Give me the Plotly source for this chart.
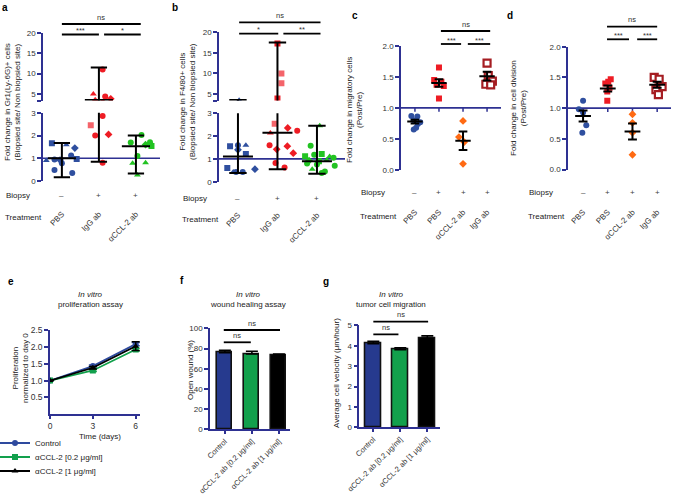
import plotly.graph_objects as go

W, H = 675, 501
def px(x): return x / W
def py(y): return 1 - y / H

FONT = "Liberation Sans, Arial, sans-serif"
NAVY = "#2e3192"
BLUE = "#2f4f9f"
RED = "#ee1c24"
PINK = "#f4646a"
GREEN = "#22c322"
ORANGE = "#ff6a13"
DARKRED = "#a51d22"
TXT = "#333333"
REF = 1.0
FS = 8

# ---------------- data ----------------
# panel a
a_groups = ["PBS", "IgG ab", "αCCL-2 ab"]
a_biopsy = ["–", "+", "+"]
a_pbs = [1.66, 1.6, 1.45, 1.12, 0.95, 0.92, 0.97, 0.9, 0.78, 0.48, 0.35]
a_igg = [11.0, 5.0, 4.4, 3.8, 3.6, 2.86, 2.45, 2.0, 2.05, 0.8]
a_ccl = [2.02, 1.69, 1.7, 1.6, 1.54, 1.1, 0.78, 0.8, 0.26]
a_mean = [1.0, 3.55, 1.53]
a_lo = [0.17, 0.85, 0.33]
a_hi = [1.67, 11.5, 2.0]
a_pbs_sym = ["square", "triangle-up", "diamond", "circle", "circle", "diamond", "square", "triangle-up", "circle", "circle", "circle"]
a_pbs_jit = [-0.27, 0.12, 0.35, 0.25, -0.2, -0.05, 0.4, -0.42, 0.0, -0.2, 0.28]
a_igg_sym = ["circle", "triangle-up", "circle", "diamond", "triangle-up", "circle", "square", "circle", "diamond", "circle"]
a_igg_jit = [0.1, -0.15, 0.17, 0.32, -0.1, 0.1, -0.22, -0.1, 0.26, 0.1]
a_ccl_sym = ["circle", "circle", "circle", "diamond", "square", "circle", "triangle-up", "triangle-up", "triangle-up"]
a_ccl_jit = [0.15, -0.14, 0.38, 0.26, 0.42, 0.04, -0.09, 0.26, 0.04]

# panel b
b_groups = ["PBS", "IgG ab", "αCCL-2 ab"]
b_biopsy = ["–", "+", "+"]
b_pbs = [3.45, 1.55, 1.6, 1.6, 1.4, 1.22, 0.6, 0.42, 0.42, 0.55, 0.42]
b_igg = [17.3, 10.0, 7.6, 3.9, 2.54, 2.14, 2.24, 2.36, 1.6, 1.42, 1.56, 1.25, 0.82, 0.62]
b_ccl = [2.45, 1.58, 1.12, 1.18, 1.22, 1.1, 1.05, 0.95, 0.8, 0.92, 0.75, 0.9, 0.7, 0.55, 0.45, 0.38]
b_mean = [1.1, 2.15, 0.9]
b_lo = [0.38, 0.55, 0.35]
b_hi = [3.5, 17.5, 2.45]
b_pbs_sym = ["triangle-up", "square", "circle", "triangle-up", "diamond", "square", "square", "circle", "circle", "diamond", "triangle-up"]
b_pbs_jit = [0.03, -0.2, 0.0, 0.2, 0.0, 0.2, -0.27, -0.05, 0.12, 0.43, -0.12]
b_igg_sym = ["square", "square", "square", "square", "square", "triangle-up", "circle", "diamond", "circle", "diamond", "diamond", "diamond", "circle", "circle"]
b_igg_pink = [False, True, True, False, True, False, False, False, False, False, False, False, False, False]
b_igg_jit = [0.0, 0.1, 0.1, 0.0, -0.07, -0.18, 0.5, 0.26, -0.2, -0.02, 0.25, 0.4, -0.05, 0.18]
b_ccl_sym = ["triangle-up", "circle", "square", "circle", "square", "triangle-up", "circle", "triangle-up", "circle", "diamond", "circle", "square", "circle", "triangle-up", "circle", "circle"]
b_ccl_jit = [0.07, -0.16, -0.3, -0.07, 0.12, 0.32, 0.42, 0.25, -0.25, -0.2, 0.0, 0.05, 0.45, -0.12, 0.2, 0.12]

# panel c
cd_groups = ["PBS", "PBS", "αCCL-2 ab", "IgG ab"]
cd_biopsy = ["–", "+", "+", "+"]
c_pbs0 = [0.87, 0.86, 0.8, 0.77, 0.74, 0.68, 0.65]
c_pbs1 = [1.65, 1.45, 1.42, 1.37, 1.35, 1.15]
c_ccl = [0.79, 0.53, 0.45, 0.1]
c_igg = [1.72, 1.52, 1.43, 1.38, 1.37]
c_mean = [0.78, 1.4, 0.47, 1.51]
c_sem = [0.03, 0.06, 0.15, 0.07]
c_jit = [[-0.15, 0.1, -0.05, 0.22, 0.12, 0.05, -0.05],
         [0.0, -0.2, 0.1, -0.1, 0.2, 0.0],
         [0.0, -0.17, 0.05, 0.0],
         [0.0, 0.05, 0.22, -0.05, 0.15]]

# panel d
d_pbs0 = [1.12, 0.98, 0.93, 0.72, 0.6]
d_pbs1 = [1.47, 1.43, 1.4, 1.33, 1.27, 1.12]
d_ccl = [0.9, 0.76, 0.6, 0.24]
d_igg = [1.5, 1.47, 1.35, 1.3, 1.22]
d_mean = [0.87, 1.32, 0.62, 1.38]
d_sem = [0.09, 0.05, 0.13, 0.05]
d_jit = [[0.0, -0.17, 0.0, 0.13, -0.03],
         [0.12, 0.02, -0.1, 0.07, -0.02, -0.02],
         [0.0, 0.0, 0.0, 0.0],
         [-0.12, 0.08, 0.2, -0.05, 0.05]]

# panel e
e_days = [0, 3, 6]
e_control = [1.0, 1.43, 2.08]
e_control_err = [0.0, 0.03, 0.05]
e_ccl02 = [1.0, 1.3, 1.92]
e_ccl02_err = [0.0, 0.03, 0.04]
e_ccl1 = [1.0, 1.38, 2.02]
e_ccl1_err = [0.0, 0.04, 0.13]
e_names = ["Control", "αCCL-2 [0.2 μg/ml]", "αCCL-2 [1 μg/ml]"]

# panels f, g
fg_labels = ["Control", "αCCL-2 ab [0.2 μg/ml]", "αCCL-2 ab [1 μg/ml]"]
f_vals = [75.8, 74.5, 73.2]
f_err = [2.5, 2.8, 1.2]
g_vals = [4.1, 3.8, 4.35]
g_err = [0.12, 0.1, 0.13]
BAR_COLORS = ["#263a8e", "#12a04c", "#000000"]

fig = go.Figure()

def add_points(xa, yas, center, vals, jit, syms, colors, size=6, open_=False):
    xs = [center + j for j in jit]
    for ya in yas:
        if open_:
            mk = dict(symbol=syms, color="white", size=size + 1, line=dict(color=colors, width=2.2))
        else:
            mk = dict(symbol=syms, color=colors, size=size, line=dict(width=0))
        fig.add_trace(go.Scatter(x=xs, y=vals, mode="markers", marker=mk, xaxis=xa, yaxis=ya,
                                 cliponaxis=True, showlegend=False, hoverinfo="skip"))

def add_bar(xa, yas, center, mean, lo, hi, mw, cw, width=2):
    xs = [center, center, None, center - cw, center + cw, None, center - cw, center + cw, None, center - mw, center + mw]
    ys = [lo, hi, None, lo, lo, None, hi, hi, None, mean, mean]
    for ya in yas:
        fig.add_trace(go.Scatter(x=xs, y=ys, mode="lines", line=dict(color="black", width=width),
                                 xaxis=xa, yaxis=ya, showlegend=False, hoverinfo="skip"))

# ---- panel a ----
add_points("x", ["y", "y2"], 0, a_pbs, a_pbs_jit, a_pbs_sym, BLUE)
add_points("x", ["y", "y2"], 1, a_igg, a_igg_jit, a_igg_sym,
           [PINK if s == "square" else RED for s in a_igg_sym])
add_points("x", ["y", "y2"], 2, a_ccl, a_ccl_jit, a_ccl_sym, GREEN)
for i in range(3):
    add_bar("x", ["y", "y2"], i, a_mean[i], a_lo[i], a_hi[i], 0.38, 0.22)

# ---- panel b ----
add_points("x2", ["y3", "y4"], 0, b_pbs, b_pbs_jit, b_pbs_sym, BLUE)
add_points("x2", ["y3", "y4"], 1, b_igg, b_igg_jit, b_igg_sym,
           [PINK if p else RED for p in b_igg_pink])
add_points("x2", ["y3", "y4"], 2, b_ccl, b_ccl_jit, b_ccl_sym, GREEN)
for i in range(3):
    add_bar("x2", ["y3", "y4"], i, b_mean[i], b_lo[i], b_hi[i], 0.38, 0.22)

# ---- panel c / d ----
def cd_panel(xa, ya, groups_vals, jits, means, sems):
    styles = [("circle", BLUE, False), ("square", RED, False), ("diamond", ORANGE, False), ("square", DARKRED, True)]
    for i, (vals, jit) in enumerate(zip(groups_vals, jits)):
        sym, col, op = styles[i]
        add_points(xa, [ya], i, vals, jit, sym, col, size=6, open_=op)
    for i in range(4):
        add_bar(xa, [ya], i, means[i], means[i] - sems[i], means[i] + sems[i], 0.32, 0.18)

cd_panel("x3", "y5", [c_pbs0, c_pbs1, c_ccl, c_igg], c_jit, c_mean, c_sem)
cd_panel("x4", "y6", [d_pbs0, d_pbs1, d_ccl, d_igg], d_jit, d_mean, d_sem)

# ---- panel e ----
legend_names = ["legend", "legend2", "legend3"]
for k, (name, vals, err, col, sym) in enumerate([(e_names[0], e_control, e_control_err, "#2e4a9e", "circle"),
                                                 (e_names[1], e_ccl02, e_ccl02_err, "#12a04c", "square"),
                                                 (e_names[2], e_ccl1, e_ccl1_err, "#000000", "triangle-up")]):
    fig.add_trace(go.Scatter(x=e_days, y=vals, name=name, mode="lines+markers",
                             line=dict(color=col, width=1.8), marker=dict(symbol=sym, color=col, size=6),
                             error_y=dict(type="data", array=err, color=col, thickness=1.5, width=4),
                             xaxis="x5", yaxis="y7", showlegend=True, legend=legend_names[k],
                             hoverinfo="skip"))

# ---- panels f, g ----
for xa, ya, vals, err in [("x6", "y8", f_vals, f_err), ("x7", "y9", g_vals, g_err)]:
    fig.add_trace(go.Bar(x=[0, 1, 2], y=vals, width=0.56,
                         marker=dict(color=BAR_COLORS, line=dict(color="#111111", width=1.6)),
                         error_y=dict(type="data", array=err, arrayminus=[0, 0, 0], symmetric=False,
                                      color="black", thickness=1.6, width=6),
                         xaxis=xa, yaxis=ya, showlegend=False, hoverinfo="skip"))

# ---------------- axes ----------------
tickfont = dict(family=FONT, size=FS, color=TXT)
def yax(dom_bot, dom_top, rng, anchor, tickvals, ticktext=None):
    d = dict(domain=[py(dom_bot), py(dom_top)], range=rng, anchor=anchor, showline=True,
             linecolor=NAVY, linewidth=1.6, ticks="outside", tickcolor=NAVY, ticklen=4, tickwidth=1.5,
             showgrid=False, zeroline=False, tickfont=tickfont, tickvals=tickvals, automargin=False)
    if ticktext is not None:
        d["ticktext"] = ticktext
    return d

def xcat(dom_l, dom_r, rng, pos, labels):
    return dict(domain=[px(dom_l), px(dom_r)], range=rng, anchor="free", position=py(pos),
                showline=False, ticks="", showgrid=False, zeroline=False,
                tickvals=list(range(len(labels))), ticktext=labels, tickangle=-45,
                tickfont=tickfont, automargin=False)

def leg(ypx):
    return dict(x=px(-5), y=py(ypx), xanchor="left", yanchor="middle", bgcolor="rgba(0,0,0,0)",
                font=dict(family=FONT, size=FS, color="#222"), itemwidth=30, tracegroupgap=0)

layout = dict(
    width=W, height=H, margin=dict(l=0, r=0, t=0, b=0, pad=0, autoexpand=False),
    paper_bgcolor="white", plot_bgcolor="rgba(0,0,0,0)",
    font=dict(family=FONT, size=FS, color=TXT),
    showlegend=True,
    legend=leg(443), legend2=leg(457), legend3=leg(471),
    bargap=0,
)
layout["xaxis"] = xcat(43, 160, [-0.51, 2.65], 207, a_groups)
layout["yaxis"] = yax(181, 112.8, [0, 3], "x", [0, 1, 2, 3])
layout["yaxis2"] = yax(100.5, 33, [3.4, 20], "x", [3.4, 5, 10, 15, 20], ["", "5", "10", "15", "20"])
layout["xaxis2"] = xcat(219, 345, [-0.48, 2.71], 208, b_groups)
layout["yaxis3"] = yax(181.7, 113.3, [0, 3], "x2", [0, 1, 2, 3])
layout["yaxis4"] = yax(100.5, 32.3, [3.4, 20], "x2", [3.4, 5, 10, 15, 20], ["", "5", "10", "15", "20"])
layout["xaxis3"] = xcat(401, 501, [-0.58, 3.58], 205, cd_groups)
layout["yaxis5"] = yax(170, 45.7, [0, 2], "x3", [0, 0.5, 1, 1.5, 2], ["0.0", "0.5", "1.0", "1.5", "2.0"])
layout["xaxis4"] = xcat(568, 671, [-0.61, 3.56], 205, cd_groups)
layout["yaxis6"] = yax(169.5, 46.7, [0, 2], "x4", [0, 0.5, 1, 1.5, 2], ["0.0", "0.5", "1.0", "1.5", "2.0"])
# e
layout["xaxis5"] = dict(domain=[px(50), px(140)], range=[0, 6.3], anchor="y7", showline=True, linecolor=NAVY,
                        linewidth=1.6, ticks="outside", tickcolor=NAVY, ticklen=3, tickwidth=1.5,
                        showgrid=False, zeroline=False, tickvals=e_days,
                        tickfont=dict(family=FONT, size=FS + 0.5, color=TXT), automargin=False)
layout["yaxis7"] = yax(414.3, 330, [0, 2.5], "x5", [0.5, 1, 1.5, 2, 2.5], ["0.5", "1.0", "1.5", "2.0", "2.5"])
layout["yaxis7"]["tickfont"] = dict(family=FONT, size=FS + 0.5, color=TXT)
# f, g
def xbar(dom_l, dom_r, rng, anchor):
    return dict(domain=[px(dom_l), px(dom_r)], range=rng, anchor=anchor, showline=True, linecolor=NAVY,
                linewidth=1.6, ticks="outside", tickcolor=NAVY, ticklen=3, tickwidth=1.5, showgrid=False,
                zeroline=False, tickvals=[0, 1, 2], ticktext=fg_labels, tickangle=-45,
                tickfont=dict(family=FONT, size=7.5, color=TXT), automargin=False)
layout["xaxis6"] = xbar(210, 290, [-0.55, 2.41], "y8")
layout["yaxis8"] = yax(429.3, 328.3, [0, 100], "x6", [0, 20, 40, 60, 80, 100])
layout["xaxis7"] = xbar(359.3, 440, [-0.52, 2.47], "y9")
layout["yaxis9"] = yax(427.3, 325.3, [0, 5], "x7", [0, 1, 2, 3, 4, 5])

# ---------------- shapes ----------------
shapes = []
for xa, ya in [("x", "y"), ("x2", "y3"), ("x3", "y5"), ("x4", "y6")]:
    shapes.append(dict(type="line", xref=f"{xa} domain", x0=0, x1=1, yref=ya, y0=REF, y1=REF,
                       line=dict(color=NAVY, width=1.6), layer="below"))
for xa, ya in [("x3", "y5"), ("x4", "y6")]:
    for i in range(4):
        shapes.append(dict(type="line", xref=xa, x0=i, x1=i, yref=ya, ysizemode="pixel", yanchor=REF,
                           y0=0, y1=-4, line=dict(color=NAVY, width=1.5), layer="below"))

annots = []
def note(x, y, text, size=FS, color="#222", angle=0, xanchor="center", xref="paper"):
    annots.append(dict(xref=xref, yref="paper", x=x, y=y, text=text, textangle=angle, showarrow=False,
                       xanchor=xanchor, yanchor="middle", font=dict(family=FONT, size=size, color=color)))

def sig(xa, x0, x1, ypx, label, lab_dy=7, fs=7.5):
    shapes.append(dict(type="line", xref=xa, x0=x0, x1=x1, yref="paper", y0=py(ypx), y1=py(ypx),
                       line=dict(color="black", width=1.8)))
    note((x0 + x1) / 2, py(ypx - lab_dy), label, size=fs, color="#333", xref=xa)

sig("x", 0.0, 2.13, 24, "ns")
sig("x", 0.0, 1.0, 34.5, "***", lab_dy=4)
sig("x", 1.14, 2.13, 34.5, "*", lab_dy=4)
sig("x2", 0.03, 2.09, 22.3, "ns")
sig("x2", 0.03, 1.02, 33.7, "*", lab_dy=4)
sig("x2", 1.15, 2.09, 33.7, "**", lab_dy=4)
sig("x3", 1.08, 3.13, 31, "ns")
sig("x3", 1.08, 1.92, 44, "***", lab_dy=4)
sig("x3", 2.2, 3.13, 44, "***", lab_dy=4)
sig("x4", 0.97, 3.0, 26.7, "ns")
sig("x4", 0.97, 1.86, 39.3, "***", lab_dy=4)
sig("x4", 2.19, 3.0, 39.3, "***", lab_dy=4)
sig("x6", -0.04, 2.04, 330, "ns")
sig("x6", -0.04, 0.96, 342.3, "ns")
sig("x7", 0.0, 2.03, 321.7, "ns")
sig("x7", 0.0, 0.93, 334.3, "ns")

# panel letters
for lt, x, y in [("a", 5, 8), ("b", 175, 8), ("c", 355, 15), ("d", 510, 16), ("e", 11, 281), ("f", 182, 280), ("g", 326, 281)]:
    note(px(x), py(y), f"<b>{lt}</b>", size=10, color="black")

# axis titles
for text, x, y, ang in [("Fold change in Gr1(Ly-6G)+ cells<br>(Biopsied site/ Non biopsied site)", 12, 102, -90),
                        ("Fold change in F4/80+ cells<br>(Biopsied site/ Non biopsied site)", 187, 102, -90),
                        ("Fold change in migratory cells<br>(Post/Pre)", 354, 110, -90),
                        ("Fold change in cell division<br>(Post/Pre)", 518, 108, -90),
                        ("Proliferation<br>normalized to day 0", 20, 368, -90),
                        ("Open wound (%)", 190, 370, -90),
                        ("Average cell velocity (μm/hour)", 336, 373, -90),
                        ("Time (days)", 100, 436, 0)]:
    note(px(x), py(y), text, angle=ang)

# Biopsy / Treatment rows
for xa, bl, lx, by, ty in [("x", a_biopsy, 4, 195, 218), ("x2", b_biopsy, 181, 198, 219),
                           ("x3", cd_biopsy, 359, 192, 216), ("x4", cd_biopsy, 527, 192, 216)]:
    note(px(lx), py(by), "Biopsy", xanchor="left")
    note(px(lx - 1), py(ty), "Treatment", xanchor="left")
    for i, s in enumerate(bl):
        note(i, py(by), s, color="#444", xref=xa)

# panel titles e, f, g
for cx, sub in [(90, "proliferation assay"), (248, "wound healing assay"), (391, "tumor cell migration")]:
    note(px(cx), py(294), "<i>In vitro</i>")
    note(px(cx), py(304), sub)

layout["shapes"] = shapes
layout["annotations"] = annots
fig.update_layout(**layout)
fig.write_html("out.html", config={"displayModeBar": False},
               post_script="document.body.style.margin='0px';document.body.style.overflow='hidden';")
